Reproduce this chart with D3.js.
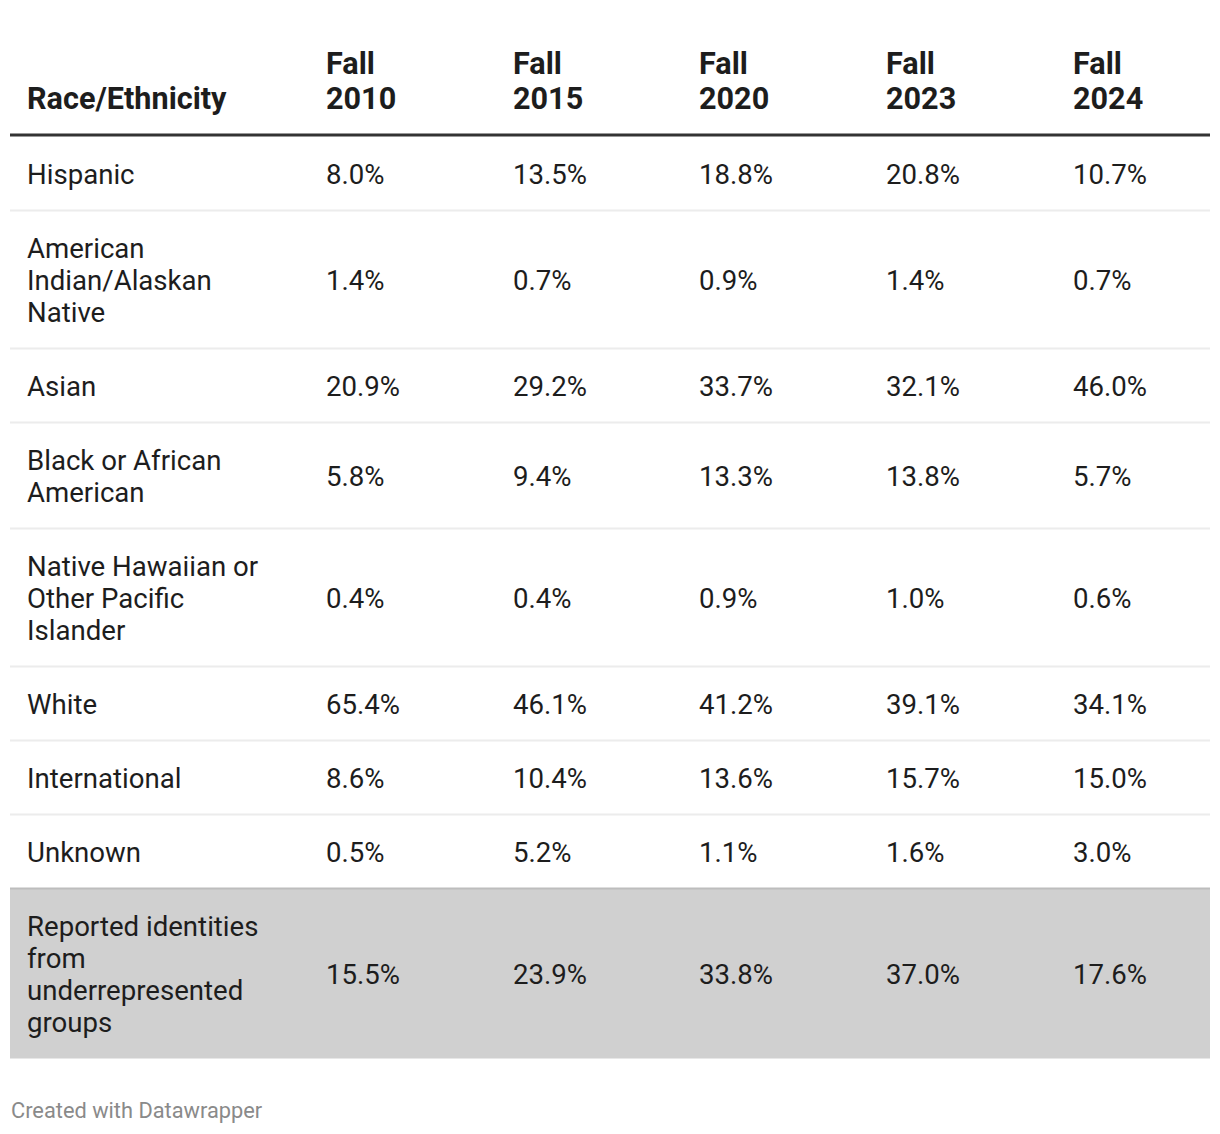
<!DOCTYPE html>
<html><head><meta charset="utf-8">
<script src="https://cdn.jsdelivr.net/npm/d3@7"></script>
<style>
html,body{margin:0;padding:0;background:#fff;}
svg text{font-family:Roboto,"Noto Sans",sans-serif;}
</style></head>
<body><svg id="c" width="1220" height="1134"></svg>
<script>
const firstHeader = "Race/Ethnicity";
const years = ["Fall 2010","Fall 2015","Fall 2020","Fall 2023","Fall 2024"];
const categories = ["Hispanic","American Indian/Alaskan Native","Asian","Black or African American","Native Hawaiian or Other Pacific Islander","White","International","Unknown","Reported identities from underrepresented groups"];
const fall2010 = [8.0,1.4,20.9,5.8,0.4,65.4,8.6,0.5,15.5];
const fall2015 = [13.5,0.7,29.2,9.4,0.4,46.1,10.4,5.2,23.9];
const fall2020 = [18.8,0.9,33.7,13.3,0.9,41.2,13.6,1.1,33.8];
const fall2023 = [20.8,1.4,32.1,13.8,1.0,39.1,15.7,1.6,37.0];
const fall2024 = [10.7,0.7,46.0,5.7,0.6,34.1,15.0,3.0,17.6];
const highlighted = ["Reported identities from underrepresented groups"];
const footer = "Created with Datawrapper";

const series = [fall2010,fall2015,fall2020,fall2023,fall2024];
const svg = d3.select("#c");
const left = 10, right = 1210;
const fontSize = 27.6, hdrSize = 30.6, lineH = 32, padV = 21;
const colX = [27,326,513,699,886,1073];
const textColor = "#1d1d1d";
const fmt = d3.format(".1f");

// measure-based wrapping
const meas = svg.append("text").attr("font-size",fontSize).attr("visibility","hidden");
function wrap(str, maxW){
  const words = str.split(" "); const lines=[]; let cur="";
  words.forEach(w=>{
    const t = cur ? cur+" "+w : w;
    meas.text(t);
    if (meas.node().getComputedTextLength() > maxW && cur){ lines.push(cur); cur=w; } else cur=t;
  });
  if(cur) lines.push(cur);
  return lines;
}

// header
const hdr = svg.append("g");
hdr.append("text").attr("x",colX[0]).attr("y",109).attr("font-size",hdrSize).attr("font-weight","bold")
  .attr("fill",textColor).text(firstHeader);
years.forEach((y,i)=>{
  const parts = y.split(" ");
  const t = hdr.append("text").attr("x",colX[i+1]).attr("font-size",hdrSize).attr("font-weight","bold").attr("fill",textColor);
  t.append("tspan").attr("x",colX[i+1]).attr("y",74).text(parts[0]);
  t.append("tspan").attr("x",colX[i+1]).attr("y",109).text(parts[1]);
});

// rows
const rows = categories.map((c,i)=>({cat:c, lines:wrap(c,248), vals:series.map(s=>s[i])}));
meas.remove();
let y = 136.5;
rows.forEach(r=>{ r.h = r.lines.length*lineH + 2*padV; r.y=y; y+=r.h; });

const g = svg.append("g");
rows.forEach((r,i)=>{
  const isHi = highlighted.includes(r.cat);
  const top = r.y, h = r.h;
  if (isHi){
    g.append("rect").attr("x",left).attr("y",top).attr("width",right-left).attr("height",h).attr("fill","#d0d0d0");
    g.append("line").attr("x1",left).attr("x2",right).attr("y1",top).attr("y2",top).attr("stroke","#bdbdbd").attr("stroke-width",2);
  } else if (i < rows.length-1 && !highlighted.includes(rows[i+1].cat)){
    g.append("line").attr("x1",left).attr("x2",right).attr("y1",top+h).attr("y2",top+h).attr("stroke","#ececec").attr("stroke-width",2);
  }
  const cy = top + h/2;
  const n = r.lines.length;
  const t = g.append("text").attr("font-size",fontSize).attr("fill",textColor);
  r.lines.forEach((ln,k)=>{
    t.append("tspan").attr("x",colX[0]).attr("y",cy + (k-(n-1)/2)*lineH + 10.5).text(ln);
  });
  r.vals.forEach((v,j)=>{
    g.append("text").attr("x",colX[j+1]).attr("y",cy+10.5).attr("font-size",fontSize).attr("fill",textColor).text(fmt(v)+"%");
  });
});

// header rule
svg.append("line").attr("x1",left).attr("x2",right).attr("y1",135).attr("y2",135).attr("stroke","#333").attr("stroke-width",3);

svg.append("text").attr("x",11).attr("y",1117.5).attr("font-size",21.8).attr("fill","#8a8a8a").text(footer);
</script></body></html>
